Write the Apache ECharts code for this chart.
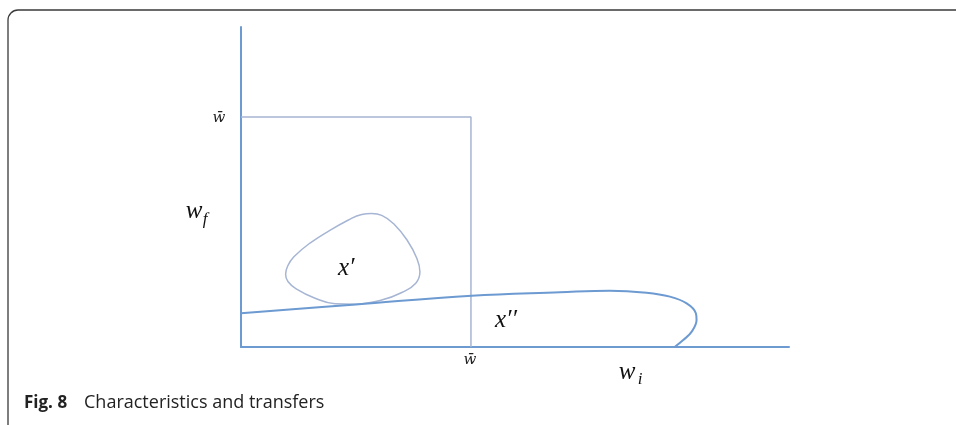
<!DOCTYPE html>
<html>
<head>
<meta charset="utf-8">
<script src="https://cdn.jsdelivr.net/npm/echarts@6/dist/echarts.min.js"></script>
<style>
  html, body { margin: 0; padding: 0; background: #fff; }
  #chart { width: 956px; height: 425px; }
</style>
</head>
<body>
<div id="chart"></div>
<script>
// units: w-bar = 1 on both axes
const xMax = 2.383
const yMax = 1.391

// the box [0, w-bar] x [0, w-bar]
const squarePts = [[0, 1], [1, 1], [1, 0]]

// x' : closed blob inside the box (starts on the straight upper-left edge)
const blobPts = [
  [0.300, 0.452], [0.365, 0.494], [0.467, 0.552], [0.525, 0.576], [0.568, 0.580],
  [0.612, 0.572], [0.665, 0.535], [0.722, 0.465], [0.765, 0.385], [0.778, 0.327],
  [0.760, 0.277], [0.702, 0.238], [0.612, 0.204], [0.496, 0.186], [0.409, 0.188],
  [0.322, 0.212], [0.240, 0.253], [0.204, 0.285], [0.194, 0.316], [0.203, 0.352],
  [0.230, 0.392], [0.300, 0.452]
]

// x'' : long loop from the w_f axis to the w_i axis
const loopPts = [
  [0, 0.147], [0.5, 0.185], [1.003, 0.223], [1.387, 0.238], [1.604, 0.245],
  [1.764, 0.236], [1.865, 0.219], [1.938, 0.190], [1.978, 0.147], [1.981, 0.117],
  [1.960, 0.067], [1.923, 0.030], [1.887, 0.001]
]

const axisBlue = '#6c9ad1'
const lightBlue = '#a6b5d3'
const mathFont = 'italic 25px "Liberation Serif", "DejaVu Serif", serif'
const subFont = 'italic 17px "Liberation Serif", "DejaVu Serif", serif'
const barFont = 'italic 15px "DejaVu Serif", serif'

const chart = echarts.init(document.getElementById('chart'))

const option = {
  animation: false,
  grid: { left: 241, top: 27, right: 167, bottom: 78 },
  xAxis: {
    type: 'value', min: 0, max: xMax,
    axisLine: { show: true, lineStyle: { color: axisBlue, width: 2 } },
    axisTick: { show: false }, axisLabel: { show: false }, splitLine: { show: false }
  },
  yAxis: {
    type: 'value', min: 0, max: yMax,
    axisLine: { show: true, lineStyle: { color: axisBlue, width: 2 } },
    axisTick: { show: false }, axisLabel: { show: false }, splitLine: { show: false }
  },
  series: [
    {
      type: 'line', data: squarePts, symbol: 'none',
      lineStyle: { color: lightBlue, width: 1.5 }
    },
    {
      type: 'line', data: blobPts, symbol: 'none', smooth: 0.45,
      lineStyle: { color: lightBlue, width: 1.5 }
    },
    {
      type: 'line', data: loopPts, symbol: 'none', smooth: 0.4,
      lineStyle: { color: axisBlue, width: 2 }
    }
  ],
  graphic: [
    // frame
    {
      type: 'rect', shape: { x: 8, y: 10, width: 1100, height: 600, r: 10 },
      style: { fill: 'none', stroke: '#3a3a3a', lineWidth: 1.3 }, silent: true
    },
    // axis and curve labels
    { type: 'text', style: { x: 219, y: 118, text: 'w\u0304', font: barFont, fill: '#222', align: 'center', verticalAlign: 'middle' } },
    { type: 'text', style: { x: 470, y: 360, text: 'w\u0304', font: barFont, fill: '#222', align: 'center', verticalAlign: 'middle' } },
    { type: 'text', style: { x: 194, y: 211, text: 'w', font: mathFont, fill: '#111', align: 'center', verticalAlign: 'middle' } },
    { type: 'text', style: { x: 205, y: 220, text: 'f', font: subFont, fill: '#111', align: 'center', verticalAlign: 'middle' } },
    { type: 'text', style: { x: 627, y: 372, text: 'w', font: mathFont, fill: '#111', align: 'center', verticalAlign: 'middle' } },
    { type: 'text', style: { x: 640, y: 380, text: 'i', font: subFont, fill: '#111', align: 'center', verticalAlign: 'middle' } },
    { type: 'text', style: { x: 338, y: 268, text: 'x\u2032', font: mathFont, fill: '#111', align: 'left', verticalAlign: 'middle' } },
    { type: 'text', style: { x: 495, y: 320, text: 'x\u2032\u2032', font: mathFont, fill: '#111', align: 'left', verticalAlign: 'middle' } },
    // caption
    { type: 'text', style: { x: 24, y: 403, text: 'Fig. 8', font: 'bold 17px "Open Sans", sans-serif', fill: '#222', align: 'left', verticalAlign: 'middle' } },
    { type: 'text', style: { x: 84, y: 403, text: 'Characteristics and transfers', font: '18px "Open Sans", sans-serif', fill: '#222', align: 'left', verticalAlign: 'middle' } }
  ]
}

chart.setOption(option)
</script>
</body>
</html>
